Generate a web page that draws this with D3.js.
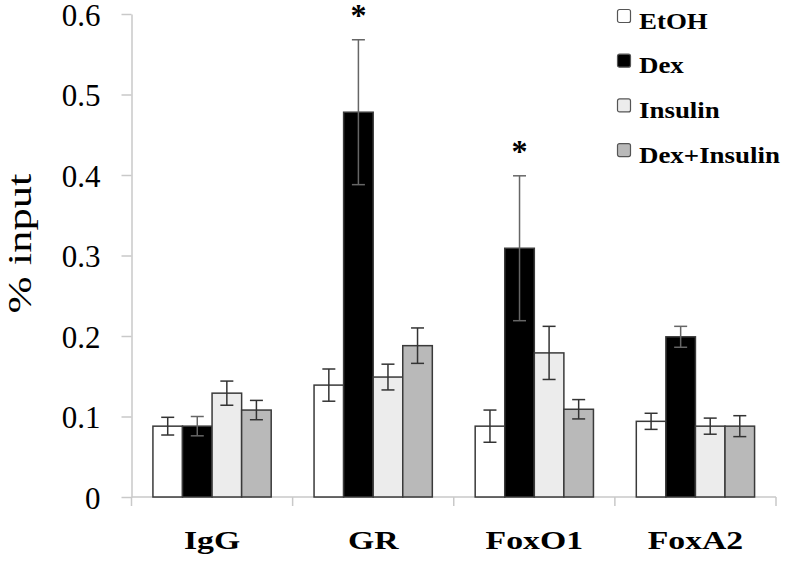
<!DOCTYPE html>
<html>
<head>
<meta charset="utf-8">
<script src="https://cdnjs.cloudflare.com/ajax/libs/d3/7.8.5/d3.min.js"></script>
<style>
  body { margin: 0; background: #fff; }
  .chart text { font-family: "Liberation Serif", "Times New Roman", serif; fill: #000; }
</style>
</head>
<body>
<div class="chart"></div>
<script>
var svgWidth = 790;
var svgHeight = 564;

var margin = { top: 14, right: 14, bottom: 67, left: 131.5 };
var width = svgWidth - margin.left - margin.right;
var height = svgHeight - margin.top - margin.bottom;

// data
var targets = ["IgG", "GR", "FoxO1", "FoxA2"];
var treatments = ["EtOH", "Dex", "Insulin", "Dex+Insulin"];
var etoh = [0.088, 0.139, 0.088, 0.094];
var dex = [0.088, 0.478, 0.309, 0.199];
var insulin = [0.129, 0.149, 0.179, 0.088];
var dexInsulin = [0.108, 0.188, 0.109, 0.088];
var etohErr = [0.011, 0.020, 0.020, 0.010];
var dexErr = [0.012, 0.090, 0.090, 0.013];
var insulinErr = [0.015, 0.016, 0.033, 0.010];
var dexInsulinErr = [0.012, 0.022, 0.012, 0.013];
var starred = [["GR", "Dex"], ["FoxO1", "Dex"]];
var yTicks = [0, 0.1, 0.2, 0.3, 0.4, 0.5, 0.6];

var colors = { "EtOH": "#ffffff", "Dex": "#000000", "Insulin": "#ececec", "Dex+Insulin": "#b9b9b9" };

var values = [etoh, dex, insulin, dexInsulin];
var errors = [etohErr, dexErr, insulinErr, dexInsulinErr];

var rows = [];
targets.forEach(function (t, i) {
    treatments.forEach(function (s, j) {
        rows.push({ target: t, series: s, value: values[j][i], err: errors[j][i] });
    });
});

var svg = d3.select(".chart")
    .append("svg")
    .attr("width", svgWidth)
    .attr("height", svgHeight);

var chartGroup = svg.append("g")
    .attr("transform", `translate(${margin.left}, ${margin.top})`);

var x0 = d3.scaleBand().domain(targets).range([0, width]);
var pad = x0.bandwidth() * 0.133;
var x1 = d3.scaleBand().domain(treatments).range([pad, x0.bandwidth() - pad]);
var y = d3.scaleLinear().domain([0, 0.6]).range([height, 0]);

// y axis
var leftAxis = d3.axisLeft(y).tickValues(yTicks).tickSize(10).tickSizeOuter(0).tickPadding(21)
    .tickFormat(d => d === 0 ? "0" : d3.format(".1f")(d));
var yAxis = chartGroup.append("g").call(leftAxis);
yAxis.attr("font-family", null);
yAxis.select(".domain").attr("stroke", "#c9c9c9").attr("stroke-width", 1.5);
yAxis.selectAll(".tick line").attr("stroke", "#c9c9c9").attr("stroke-width", 1.5);
yAxis.selectAll(".tick text")
    .attr("font-size", 31)
    .attr("dy", "0.36em");

// x axis line and boundary ticks
chartGroup.append("line")
    .attr("x1", 0).attr("x2", width)
    .attr("y1", height).attr("y2", height)
    .attr("stroke", "#c9c9c9").attr("stroke-width", 1.5);
var bounds = [0].concat(targets.map(t => x0(t) + x0.bandwidth()));
chartGroup.selectAll(".xtick")
    .data(bounds)
    .enter()
    .append("line")
    .attr("x1", d => d).attr("x2", d => d)
    .attr("y1", height).attr("y2", height + 9)
    .attr("stroke", "#c9c9c9").attr("stroke-width", 1.5);

chartGroup.selectAll(".xlabel")
    .data(targets)
    .enter()
    .append("text")
    .attr("transform", d => `translate(${x0(d) + x0.bandwidth() / 2}, ${height + 52}) scale(1.35,1)`)
    .attr("text-anchor", "middle")
    .attr("font-size", 25)
    .attr("font-weight", "bold")
    .text(d => d);

// y axis title
chartGroup.append("text")
    .attr("transform", `translate(${-margin.left + 30.5}, ${height / 2 - 12}) rotate(-90) scale(1.35,1)`)
    .attr("text-anchor", "middle")
    .attr("font-size", 33)
    .text("% input");

// bars
var groups = chartGroup.selectAll(".grp")
    .data(targets)
    .enter()
    .append("g")
    .attr("transform", d => `translate(${x0(d)},0)`);

groups.selectAll("rect")
    .data(t => rows.filter(r => r.target === t))
    .enter()
    .append("rect")
    .attr("x", d => x1(d.series))
    .attr("y", d => y(d.value))
    .attr("width", x1.bandwidth())
    .attr("height", d => height - y(d.value))
    .attr("fill", d => colors[d.series])
    .attr("stroke", "#3a3a3a")
    .attr("stroke-width", 1.5);

// error bars
var eb = groups.selectAll(".err")
    .data(t => rows.filter(r => r.target === t))
    .enter()
    .append("g")
    .attr("stroke", d => d.series === "Dex" ? "#666" : "#333")
    .attr("stroke-width", 1.5);
eb.append("line")
    .attr("x1", d => x1(d.series) + x1.bandwidth() / 2)
    .attr("x2", d => x1(d.series) + x1.bandwidth() / 2)
    .attr("y1", d => y(d.value + d.err))
    .attr("y2", d => y(d.value - d.err));
eb.append("line")
    .attr("x1", d => x1(d.series) + x1.bandwidth() / 2 - 6.5)
    .attr("x2", d => x1(d.series) + x1.bandwidth() / 2 + 6.5)
    .attr("y1", d => y(d.value + d.err))
    .attr("y2", d => y(d.value + d.err));
eb.append("line")
    .attr("x1", d => x1(d.series) + x1.bandwidth() / 2 - 6.5)
    .attr("x2", d => x1(d.series) + x1.bandwidth() / 2 + 6.5)
    .attr("y1", d => y(d.value - d.err))
    .attr("y2", d => y(d.value - d.err));

// significance stars
chartGroup.selectAll(".star")
    .data(starred)
    .enter()
    .append("text")
    .attr("x", d => x0(d[0]) + x1(d[1]) + x1.bandwidth() / 2)
    .attr("y", d => {
        var r = rows.find(q => q.target === d[0] && q.series === d[1]);
        return y(r.value + r.err) - 14;
    })
    .attr("text-anchor", "middle")
    .attr("font-size", 32)
    .attr("font-weight", "bold")
    .text("*");

// legend
var legend = svg.append("g").attr("transform", "translate(617, 9)");
var item = legend.selectAll("g")
    .data(treatments)
    .enter()
    .append("g")
    .attr("transform", (d, i) => `translate(0, ${i * 44.7})`);
item.append("rect")
    .attr("x", 0.5).attr("y", 0.5)
    .attr("width", 13).attr("height", 13)
    .attr("rx", 2)
    .attr("fill", d => colors[d])
    .attr("stroke", "#555")
    .attr("stroke-width", 1.2);
item.append("text")
    .attr("transform", "translate(22, 19.5) scale(1.17,1)")
    .attr("font-size", 23)
    .attr("font-weight", "bold")
    .text(d => d);
</script>
</body>
</html>
